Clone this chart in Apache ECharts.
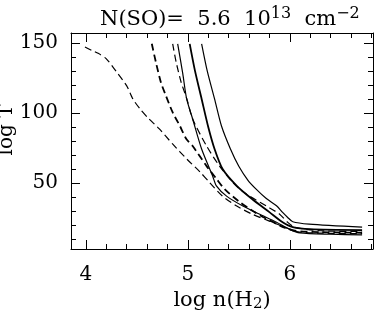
<!DOCTYPE html>
<html>
<head>
<meta charset="utf-8">
<script src="https://cdn.jsdelivr.net/npm/echarts@6/dist/echarts.min.js"></script>
<style>
html,body{margin:0;padding:0;background:#fff;}
#c{width:382px;height:310px;}
</style>
</head>
<body>
<div id="c"></div>
<script>
// ---- data (log n(H2), log T) ----
const curveA = [[3.99,147],[4.06,144.5],[4.12,142.5],[4.20,138.6],[4.30,129.3],[4.40,119.3],[4.46,110],[4.53,102.9],[4.61,96.4],[4.72,88.6],[4.85,77.9],[4.99,67.1],[5.12,57.9],[5.21,50.7],[5.34,40.7],[5.48,33.6],[5.63,27.9],[5.80,22.9],[5.97,18.0],[6.08,15.2],[6.3,14.3],[6.71,14.0]];
const curveB = [[4.646,149.3],[4.686,136.2],[4.735,121.9],[4.784,112.4],[4.85,100.5],[4.92,91],[4.985,81.4],[5.047,76.4],[5.184,62.1],[5.282,52.9],[5.36,45.7],[5.50,37],[5.65,29.5],[5.80,23.5],[5.95,18.2],[6.05,16],[6.3,15],[6.71,14.6]];
const curveC = [[4.851,149.3],[4.885,136.2],[4.934,121.9],[4.99,110],[5.047,95.7],[5.184,76.4],[5.311,62.1],[5.438,50.7],[5.51,45.7],[5.605,40.7],[5.771,33.6],[5.898,28],[5.98,22],[6.05,18.5],[6.3,16],[6.71,15.5]];
const curveD = [[4.900,149.3],[4.95,128],[4.988,110],[5.047,95.7],[5.135,74.3],[5.243,55],[5.28,48],[5.38,40.7],[5.54,33.6],[5.70,27.9],[5.87,22.1],[6.0,17],[6.1,14.5],[6.4,13.5],[6.71,13.0]];
const curveE = [[5.018,149.3],[5.07,130],[5.135,110],[5.20,90],[5.262,74.3],[5.341,60],[5.48,48],[5.63,38.6],[5.80,29.3],[5.93,22.1],[6.03,18.6],[6.2,17.2],[6.71,16.5]];
const curveF = [[5.135,149.3],[5.19,130],[5.262,110],[5.33,90.7],[5.418,74.3],[5.50,62],[5.59,52],[5.67,45.7],[5.77,39],[5.87,33.8],[5.93,29.1],[5.98,25.5],[6.03,22.4],[6.19,20.7],[6.71,18.6]];

const xMajorTicks = [4, 5, 6];
const xMinorTicks = [4.0,4.2,4.4,4.6,4.8,5.0,5.2,5.4,5.6,5.8,6.0,6.2,6.4,6.6,6.8];
const yMajorTicks = [50, 100, 150];
const yMinorTicks = [10,20,30,40,50,60,70,80,90,100,110,120,130,140,150];

const X_MIN = 3.853, X_MAX = 6.817, Y_MIN = 3, Y_MAX = 157;
const FONT = 'DejaVu Serif';

function xAx(pos, major) {
  return {
    type: 'value', min: X_MIN, max: X_MAX, position: pos,
    axisLine: {show: major, lineStyle: {color: '#000', width: 1}},
    axisTick: {show: true, inside: true, length: major ? 9 : 5, lineStyle: {color: '#000', width: 1},
               customValues: major ? xMajorTicks : xMinorTicks},
    axisLabel: {show: major && pos === 'bottom', customValues: xMajorTicks, color: '#000',
                fontFamily: FONT, fontSize: 20, margin: 16},
    splitLine: {show: false},
    name: (major && pos === 'bottom') ? 'log n(H{sub|2})' : '',
    nameLocation: 'middle', nameGap: 29,
    nameTextStyle: {color: '#000', fontFamily: FONT, fontSize: 21,
      rich: {sub: {fontFamily: FONT, fontSize: 15, color: '#000', padding: [7, 0, 0, 0]}}}
  };
}
function yAx(pos, major) {
  return {
    type: 'value', min: Y_MIN, max: Y_MAX, position: pos,
    axisLine: {show: major, lineStyle: {color: '#000', width: 1}},
    axisTick: {show: true, inside: true, length: major ? 9 : 5, lineStyle: {color: '#000', width: 1},
               customValues: major ? yMajorTicks : yMinorTicks},
    axisLabel: {show: major && pos === 'left', customValues: yMajorTicks, color: '#000',
                fontFamily: FONT, fontSize: 20, margin: 13},
    splitLine: {show: false}
  };
}

function ser(data, dashed, width) {
  return {
    type: 'line', data: data, xAxisIndex: 0, yAxisIndex: 0,
    showSymbol: false, smooth: 0.25, animation: false,
    lineStyle: {color: '#000', width: width, type: dashed ? [7, 4] : 'solid'}
  };
}

const chart = echarts.init(document.getElementById('c'), null, {renderer: 'canvas'});
chart.setOption({
  animation: false,
  backgroundColor: '#fff',
  title: {
    text: 'N(SO)=  5.6  10{sup|13}  cm{sup|−2}',
    left: 95, top: 1,
    textStyle: {color: '#000', fontFamily: FONT, fontSize: 21, fontWeight: 'normal',
      rich: {sup: {fontFamily: FONT, fontSize: 16, color: '#000', padding: [0, 0, 11, 0]}}}
  },
  graphic: [{
    type: 'text', x: 7, y: 130, rotation: Math.PI / 2, silent: true,
    style: {text: 'log T', fill: '#000', font: '20px "DejaVu Serif"', align: 'center', verticalAlign: 'middle'}
  }],
  grid: {left: 71, top: 33, width: 302, height: 216, containLabel: false, outerBoundsMode: 'none'},
  xAxis: [xAx('bottom', true), xAx('bottom', false), xAx('top', true), xAx('top', false)],
  yAxis: [yAx('left', true), yAx('left', false), yAx('right', true), yAx('right', false)],
  series: [
    ser(curveA, true, 1.2),
    ser(curveB, true, 1.8),
    ser(curveC, true, 1.2),
    ser(curveD, false, 1.2),
    ser(curveE, false, 1.8),
    ser(curveF, false, 1.2)
  ]
});
</script>
</body>
</html>
